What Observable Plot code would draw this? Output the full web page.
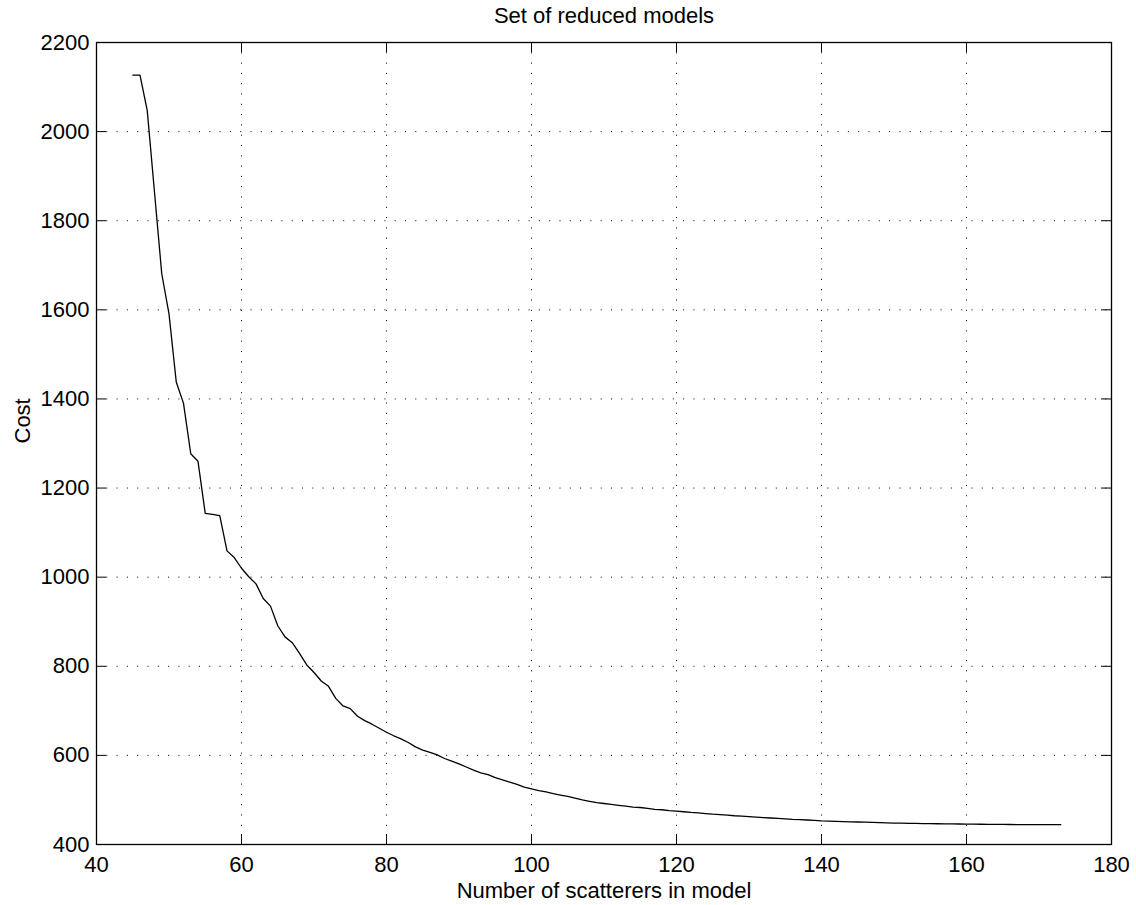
<!DOCTYPE html>
<html>
<head>
<meta charset="utf-8">
<script src="https://cdn.jsdelivr.net/npm/d3@7"></script>
<script src="https://cdn.jsdelivr.net/npm/@observablehq/plot@0.6"></script>
<style>
  html, body { margin: 0; padding: 0; background: #fff; }
  #chart svg { display: block; }
</style>
</head>
<body>
<div id="chart"></div>
<script>
const title = "Set of reduced models";
const xLabel = "Number of scatterers in model";
const yLabel = "Cost";
const xTicks = [40, 60, 80, 100, 120, 140, 160, 180];
const yTicks = [400, 600, 800, 1000, 1200, 1400, 1600, 1800, 2000, 2200];

const scatterers = [
  45, 46, 47, 48, 49, 50, 51, 52, 53, 54, 55, 56, 57, 58, 59, 60, 61, 62, 63, 64,
  65, 66, 67, 68, 69, 70, 71, 72, 73, 74, 75, 76, 77, 78, 79, 80, 81, 82, 83, 84,
  85, 86, 87, 88, 89, 90, 91, 92, 93, 94, 95, 96, 97, 98, 99, 100, 101, 102, 103, 104,
  105, 106, 107, 108, 109, 110, 111, 112, 113, 114, 115, 116, 117, 118, 119, 120, 121, 122, 123, 124,
  125, 126, 127, 128, 129, 130, 131, 132, 133, 134, 135, 136, 137, 138, 139, 140, 141, 142, 143, 144,
  145, 146, 147, 148, 149, 150, 151, 152, 153, 154, 155, 156, 157, 158, 159, 160, 161, 162, 163, 164,
  165, 166, 167, 168, 169, 170, 171, 172, 173
];
const cost = [
  2127, 2127, 2047, 1864, 1681, 1591, 1438, 1390, 1277, 1260, 1143, 1141, 1138, 1059, 1044, 1020, 1001, 985, 952, 935,
  891, 866, 853, 829, 803, 786, 767, 755, 728, 711, 705, 688, 678, 670, 661, 652, 644, 637, 629, 619,
  612, 607, 601, 593, 587, 581, 574, 567, 561, 557, 550, 545, 540, 535, 529, 525, 521, 518, 514, 511,
  508, 504, 500, 497, 494, 492, 490, 488, 486, 484, 483, 481, 479, 478, 476, 475, 473.5, 472, 471, 469.5,
  468, 467, 466, 464.5, 463.5, 462.5, 461.5, 460.5, 459.5, 458.5, 457.5, 456.5, 456, 455, 454, 453, 452.5, 452, 451.5, 451,
  450.5, 450, 449.5, 449, 448.5, 448, 447.8, 447.6, 447.3, 447, 446.8, 446.6, 446.4, 446.2, 446, 445.8, 445.6, 445.4, 445.2, 445.1,
  445, 444.9, 444.8, 444.7, 444.6, 444.6, 444.5, 444.5, 444.5
];

const data = scatterers.map((n, i) => ({n, c: cost[i]}));

const W = 1136, H = 905;
const mL = 96, mR = 25, mT = 42, mB = 61;
const plotW = W - mL - mR, plotH = H - mT - mB;
const tick = 10;
const dots = "1,9.3";
const font = "Liberation Sans, Arial, Helvetica, sans-serif";

const chart = Plot.plot({
  width: W,
  height: H,
  marginLeft: mL,
  marginRight: mR,
  marginTop: mT,
  marginBottom: mB,
  style: {fontFamily: font, fontSize: "22px", color: "black", background: "white"},
  x: {domain: [40, 180], axis: null},
  y: {domain: [400, 2200], axis: null},
  marks: [
    // dotted grid
    Plot.ruleX(xTicks, {x: d => d, stroke: "black", strokeWidth: 1, strokeDasharray: dots}),
    Plot.ruleY(yTicks, {y: d => d, stroke: "black", strokeWidth: 1, strokeDasharray: dots}),
    // inward ticks on all four sides
    Plot.ruleX(xTicks, {x: d => d, insetTop: plotH - tick, stroke: "black"}),
    Plot.ruleX(xTicks, {x: d => d, insetBottom: plotH - tick, stroke: "black"}),
    Plot.ruleY(yTicks, {y: d => d, insetRight: plotW - tick, stroke: "black"}),
    Plot.ruleY(yTicks, {y: d => d, insetLeft: plotW - tick, stroke: "black"}),
    // tick labels
    Plot.text(xTicks, {x: d => d, text: d => String(d), frameAnchor: "bottom", lineAnchor: "top", dy: 12, fill: "black"}),
    Plot.text(yTicks, {y: d => d, text: d => String(d), frameAnchor: "left", textAnchor: "end", dx: -7, fill: "black"}),
    // data line
    Plot.line(data, {x: "n", y: "c", stroke: "black", strokeWidth: 1.3}),
    // box
    Plot.frame({stroke: "black", strokeWidth: 1.3}),
    // title and axis labels
    Plot.text([title], {text: d => d, frameAnchor: "top", lineAnchor: "top", dy: -35, fill: "black"}),
    Plot.text([xLabel], {text: d => d, frameAnchor: "bottom", lineAnchor: "top", dy: 38, fill: "black"}),
    Plot.text([yLabel], {text: d => d, frameAnchor: "left", rotate: -90, dx: -74, fill: "black"})
  ]
});

document.getElementById("chart").appendChild(chart);
</script>
</body>
</html>
